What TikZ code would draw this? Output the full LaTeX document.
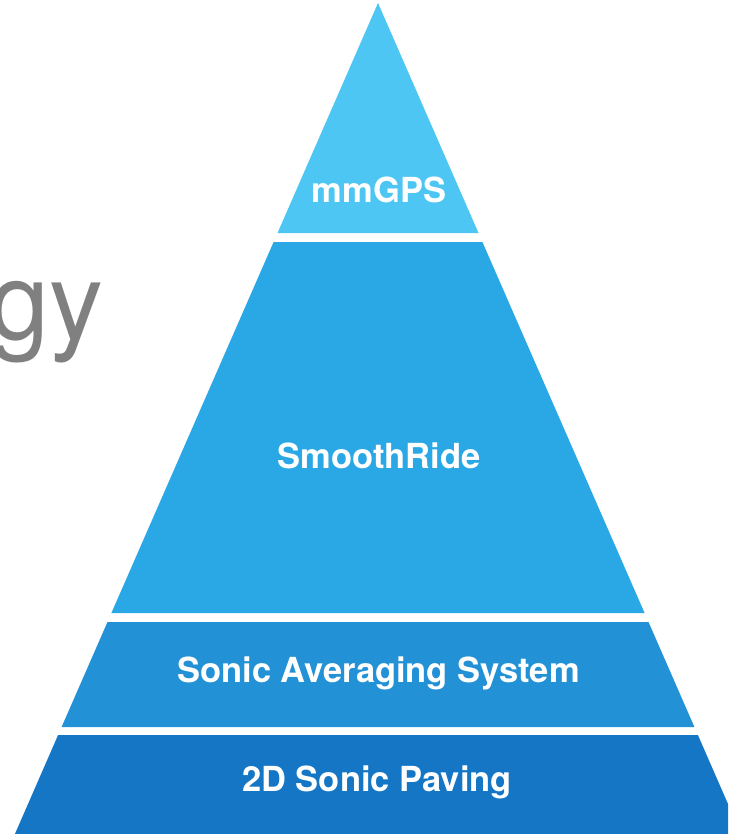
\documentclass[tikz,border=0pt]{standalone}
\usepackage{fontspec}
\setmainfont{TeX Gyre Heros}
\usepackage{xcolor}

\definecolor{tiertop}{HTML}{4DC6F4}
\definecolor{tiertwo}{HTML}{2AA8E6}
\definecolor{tierthree}{HTML}{2291D6}
\definecolor{tierbase}{HTML}{1476C4}
\definecolor{titlegray}{HTML}{808080}

\tikzset{
  tierlabel/.style={text=white, font=\bfseries\fontsize{34.5}{40}\selectfont, inner sep=0pt, anchor=base},
}

\begin{document}
\begin{tikzpicture}[x=1pt,y=-1pt]
\useasboundingbox (0,0) rectangle (728,834);
\clip (0,0) rectangle (728,834);

% heading, runs off the left edge
\node[text=titlegray, font=\fontsize{108}{120}\selectfont, inner sep=0pt, anchor=base east] (title) at (104,339) {gy};

% the four tiers, bottom to top
\fill[tierbase] (58.1,735) -- (697.9,735) -- (741.1,834) -- (14.9,834) -- cycle;
\fill[tierthree] (107.5,622) -- (648.5,622) -- (694.4,727) -- (61.6,727) -- cycle;
\fill[tiertwo] (273.6,242) -- (482.4,242) -- (644.6,613) -- (111.4,613) -- cycle;
\fill[tiertop] (378,3) -- (478.5,233) -- (277.5,233) -- cycle;

\node[tierlabel] (gps) at (379,203) {mmGPS};
\node[tierlabel] (smooth) at (379,468) {SmoothRide};
\node[tierlabel] (sonicavg) at (378.5,682) {Sonic Averaging System};
\node[tierlabel] (paving) at (377,791) {2D Sonic Paving};
\end{tikzpicture}
\end{document}
